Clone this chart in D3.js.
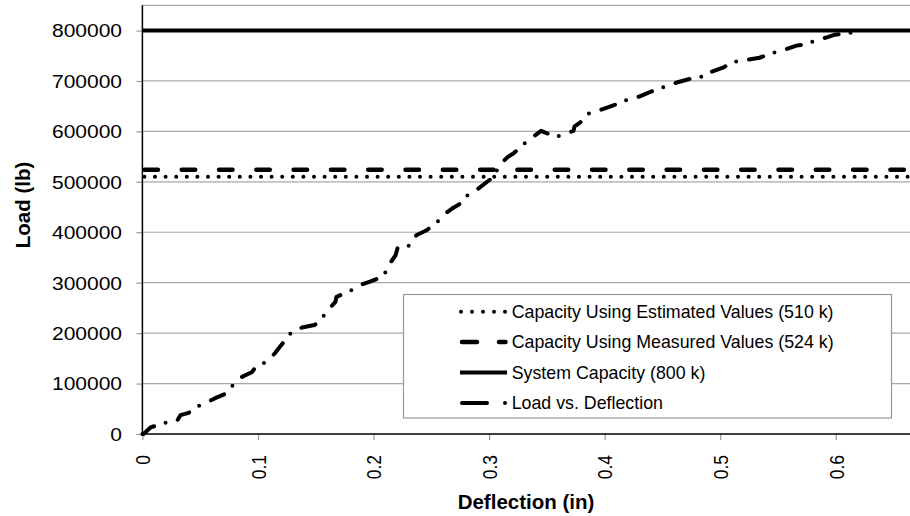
<!DOCTYPE html>
<html><head><meta charset="utf-8">
<script src="https://cdn.jsdelivr.net/npm/d3@7"></script>
<style>body{margin:0;background:#fff}svg{display:block}</style>
</head><body>
<svg id="chart" width="910" height="516"></svg>
<script>
// ---- data ----
const deflection = [0, 0.001, 0.007, 0.019, 0.030, 0.033, 0.040, 0.049, 0.056, 0.063, 0.071, 0.077, 0.086, 0.095, 0.097, 0.109, 0.115, 0.119, 0.126, 0.130, 0.138, 0.149, 0.154, 0.162, 0.167, 0.168, 0.181, 0.188, 0.197, 0.209, 0.212, 0.219, 0.221, 0.232, 0.237, 0.246, 0.255, 0.262, 0.268, 0.276, 0.280, 0.288, 0.304, 0.309, 0.316, 0.321, 0.332, 0.338, 0.345, 0.358, 0.373, 0.374, 0.379, 0.386, 0.397, 0.407, 0.422, 0.430, 0.439, 0.455, 0.464, 0.477, 0.490, 0.491, 0.503, 0.510, 0.521, 0.534, 0.545, 0.553, 0.566, 0.577, 0.580, 0.593, 0.598, 0.609, 0.621];
const load = [0, 0, 13000, 22000, 26000, 37500, 42000, 56000, 63000, 71000, 79000, 94000, 113000, 123000, 130000, 146000, 161000, 173000, 193000, 204000, 211000, 216000, 226000, 249000, 262000, 272000, 285000, 295000, 302000, 313000, 331000, 354000, 370000, 374000, 394000, 404000, 420000, 437000, 447000, 458000, 471000, 482000, 510000, 533000, 549000, 556000, 579000, 589000, 601000, 589000, 601000, 610000, 618000, 635000, 643000, 651000, 665000, 669000, 678000, 691000, 698000, 706000, 711000, 717000, 727000, 737000, 741000, 746000, 755000, 760000, 770000, 774000, 778000, 787000, 791000, 795000, 797000];
const capacityNames = ["Capacity Using Estimated Values (510 k)", "Capacity Using Measured Values (524 k)", "System Capacity (800 k)"];
const capacityValues = [510000, 524000, 800000];
const curveName = "Load vs. Deflection";
const yTickValues = [0, 100000, 200000, 300000, 400000, 500000, 600000, 700000, 800000];
const xTickValues = [0, 0.1, 0.2, 0.3, 0.4, 0.5, 0.6];
const xTickLabels = ["0", "0.1", "0.2", "0.3", "0.4", "0.5", "0.6"];
const xTitle = "Deflection (in)";
const yTitle = "Load (lb)";

// ---- styles ----
const capStyles = [
  {width: 4, dash: "0 10.6", cap: "round", legendDash: "0 11"},
  {width: 4.5, dash: "13.5 23.8", cap: "round", legendDash: "15 22"},
  {width: 4, dash: null, cap: "butt", legendDash: null}
];
const FONT = "'Liberation Sans', Arial, sans-serif";

const svg = d3.select("#chart");
const x = d3.scaleLinear().domain([0, 0.7]).range([142.4, 951.3]);
const y = d3.scaleLinear().domain([0, 850000]).range([434, 5.3]);
const xMax = 0.7;

// gridlines
const grid = svg.append("g");
grid.selectAll("line").data(yTickValues.filter(d => d > 0).concat([850000]))
  .join("line")
  .attr("x1", x(0)).attr("x2", x(xMax))
  .attr("y1", d => y(d)).attr("y2", d => y(d))
  .attr("stroke", "#a8a8a8").attr("stroke-width", 1.2);

// axes
const yAxis = svg.append("g").attr("transform", `translate(${x(0)},0)`)
  .call(d3.axisLeft(y).tickValues(yTickValues).tickSize(6).tickSizeOuter(0).tickFormat(d3.format("d")));
yAxis.select(".domain").remove();
yAxis.selectAll(".tick line").attr("stroke", "#999").attr("stroke-width", 1.2);
yAxis.selectAll(".tick text")
  .attr("x", null).attr("dy", "0.36em")
  .attr("transform", "translate(-20.4,0) scale(1.2,1)")
  .attr("text-anchor", "end")
  .style("font-family", FONT).style("font-size", "17.5px").attr("fill", "#000");

const xAxis = svg.append("g").attr("transform", `translate(0,${y(0)})`)
  .call(d3.axisBottom(x).tickValues(xTickValues).tickSize(6).tickSizeOuter(0).tickFormat((d, i) => xTickLabels[i]));
xAxis.select(".domain").remove();
xAxis.selectAll(".tick line").attr("stroke", "#999").attr("stroke-width", 1.2);
xAxis.selectAll(".tick text")
  .attr("y", null).attr("dy", "0.35em")
  .attr("transform", "translate(0,21) scale(1.2,1) rotate(-90)")
  .attr("text-anchor", "end")
  .style("font-family", FONT).style("font-size", "17.5px").attr("fill", "#000");

// axis lines
svg.append("line").attr("x1", x(0)).attr("x2", x(0)).attr("y1", y(850000)).attr("y2", y(0))
  .attr("stroke", "#000").attr("stroke-width", 1.5);
svg.append("line").attr("x1", x(0)).attr("x2", x(xMax)).attr("y1", y(0)).attr("y2", y(0))
  .attr("stroke", "#000").attr("stroke-width", 1.5);

// capacity lines
capacityValues.forEach((v, i) => {
  const s = capStyles[i];
  svg.append("line")
    .attr("x1", x(0) + (s.cap === "round" ? 2 : 0)).attr("x2", x(xMax))
    .attr("y1", y(v)).attr("y2", y(v))
    .attr("stroke", "#000").attr("stroke-width", s.width)
    .attr("stroke-linecap", s.cap)
    .attr("stroke-dasharray", s.dash);
});

// load vs deflection curve
const pts = deflection.map((d, i) => [d, load[i]]);
svg.append("path")
  .attr("d", d3.line().x(d => x(d[0])).y(d => y(d[1]))(pts))
  .attr("fill", "none").attr("stroke", "#000").attr("stroke-width", 4)
  .attr("stroke-linecap", "round").attr("stroke-linejoin", "round")
  .attr("stroke-dasharray", "14.5 12 0 13");

// titles
svg.append("text").attr("x", 526).attr("y", 509)
  .attr("text-anchor", "middle").style("font-family", FONT)
  .style("font-size", "20.5px").style("font-weight", "bold").text(xTitle);
svg.append("text").attr("transform", "translate(23,205) rotate(-90)").attr("dy", "0.35em")
  .attr("text-anchor", "middle").style("font-family", FONT)
  .style("font-size", "20.5px").style("font-weight", "bold").text(yTitle);

// legend
const lg = svg.append("g");
lg.append("rect").attr("x", 403.5).attr("y", 294.5).attr("width", 488).attr("height", 123.5)
  .attr("fill", "#fff").attr("stroke", "#999").attr("stroke-width", 1.2);
const legendNames = capacityNames.concat([curveName]);
legendNames.forEach((name, i) => {
  const cy = 311.7 + i * 30.4;
  if (i < 3) {
    const s = capStyles[i];
    let x1 = 460, x2 = 507;
    if (i === 0) { x1 = 461; x2 = 505.5; }
    if (i === 1) { x1 = 462; x2 = 505.5; }
    lg.append("line").attr("x1", x1).attr("x2", x2).attr("y1", cy).attr("y2", cy)
      .attr("stroke", "#000").attr("stroke-width", s.width)
      .attr("stroke-linecap", s.cap).attr("stroke-dasharray", s.legendDash);
  } else {
    lg.append("path").attr("d", `M462,${cy}H506`)
      .attr("stroke", "#000").attr("stroke-width", 4).attr("fill", "none")
      .attr("stroke-linecap", "round").attr("stroke-dasharray", "25 18 0 100");
  }
  lg.append("text").attr("x", 511.7).attr("y", cy).attr("dy", "0.35em")
    .style("font-family", FONT).style("font-size", "17.8px").text(name);
});
</script>
</body></html>
